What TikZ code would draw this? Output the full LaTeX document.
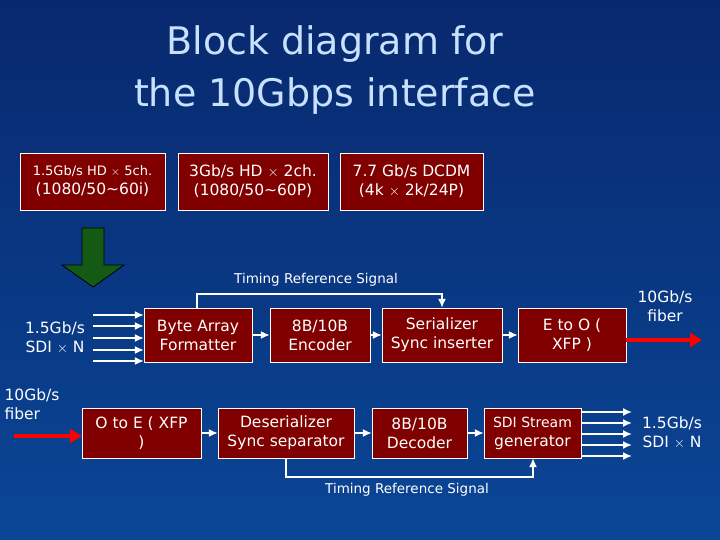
\documentclass[tikz,border=0pt]{standalone}
\usepackage{fontspec}
\setmainfont{DejaVu Sans}
\usetikzlibrary{arrows.meta}
\definecolor{boxred}{RGB}{128,0,0}
\definecolor{titleblue}{RGB}{200,225,255}
\definecolor{bgtop}{RGB}{8,40,110}
\definecolor{bgbot}{RGB}{10,70,150}
\definecolor{arrowgreen}{RGB}{20,90,20}
\tikzset{
  block/.style={draw=white, fill=boxred, text=white, align=center, font=\fontsize{15.5}{19}\selectfont, inner sep=0pt},
  wire/.style={draw=white, line width=1.6pt, -{Latex[length=9pt,width=8pt]}},
  fibre/.style={draw=red, line width=4pt, -{Triangle[length=12pt,width=14pt]}},
  lbl/.style={text=white, align=center, font=\fontsize{15.5}{19}\selectfont}
}
\newcommand*{\blockat}[5]{%
\node[block, minimum width=#3pt, minimum height=#4pt] (#1) at (#2) {#5};}

\begin{document}
\begin{tikzpicture}[x=1pt, y=-1pt]

\shade[top color=bgtop, bottom color=bgbot] (0,0) rectangle (720,540);
\useasboundingbox (0,0) rectangle (720,540);

\node[text=titleblue, align=center, font=\fontsize{38}{52}\selectfont] (title) at (335,70) {Block diagram for\\the 10Gbps interface};

% input formats
\blockat{hd}{92.5,181.5}{145}{57}{\fontsize{13}{18}\selectfont 1.5Gb/s HD $\times$ 5ch.\\(1080/50\textasciitilde60i)}
\blockat{hdtwo}{253,181.5}{150}{57}{3Gb/s HD $\times$ 2ch.\\(1080/50\textasciitilde60P)}
\blockat{dcdm}{411.5,181.5}{143}{57}{7.7 Gb/s DCDM\\(4k $\times$ 2k/24P)}

\draw[fill=arrowgreen, draw=black, thick] (82,228) -- (104,228) -- (104,265) -- (124,265) -- (93,287) -- (62,265) -- (82,265) -- cycle;

% transmitter
\blockat{byte}{198,335}{108}{54}{Byte Array\\Formatter}
\blockat{enc}{320,335}{100}{54}{8B/10B\\Encoder}
\blockat{ser}{442,335}{120}{54}{Serializer\\Sync inserter}
\blockat{eto}{572,335}{108}{54}{E to O (\\XFP )}

% receiver
\blockat{ote}{141.5,433}{119}{50}{O to E ( XFP\\)}
\blockat{deser}{286,433}{136}{50}{Deserializer\\Sync separator}
\blockat{dec}{419.5,433}{95}{50}{8B/10B\\Decoder}
\blockat{sdi}{532.5,433}{97}{50}{{\fontsize{14}{18}\selectfont SDI Stream}\\generator}

\foreach \y in {315,326,338,350,361}
  \draw[wire] (93,\y) -- (byte.west |- 0,\y);
\node[lbl] (sdiin) at (55,338) {1.5Gb/s\\SDI $\times$ N};

\foreach \y in {412,423,434,445,456}
  \draw[wire] (sdi.east |- 0,\y) -- (632,\y);
\node[lbl] (sdiout) at (672,433) {1.5Gb/s\\SDI $\times$ N};

\draw[wire] (byte) -- (enc);
\draw[wire] (enc) -- (ser);
\draw[wire] (ser) -- (eto);
\draw[wire] (ote) -- (deser);
\draw[wire] (deser) -- (dec);
\draw[wire] (dec) -- (sdi);

% timing reference
\coordinate (tra) at (197,294);
\coordinate (trb) at (442,294);
\draw[wire] (byte.north -| tra) -- (tra) -- (trb) -- (ser.north);
\node[lbl, font=\fontsize{13.5}{16}\selectfont] (trtop) at (316,280) {Timing Reference Signal};
\coordinate (trc) at (286,477);
\coordinate (trd) at (533,477);
\draw[wire] (deser.south) -- (trc) -- (trd) -- (sdi.south -| trd);
\node[lbl, font=\fontsize{13.5}{16}\selectfont] (trbot) at (407,490) {Timing Reference Signal};

% fibres
\coordinate (fin) at (14,436);
\draw[fibre] (fin) -- (ote.west |- fin);
\node[lbl, align=left] (fibin) at (32,404) {10Gb/s\\fiber};
\coordinate (fout) at (702,340);
\draw[fibre] (eto.east |- fout) -- (fout);
\node[lbl] (fibout) at (665,306) {10Gb/s\\fiber};

\end{tikzpicture}
\end{document}
